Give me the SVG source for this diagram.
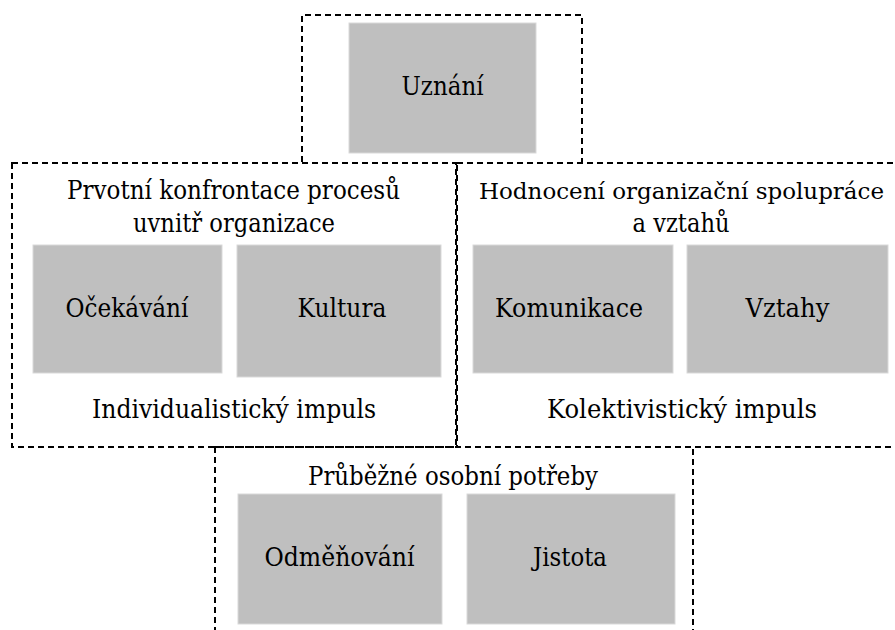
<svg xmlns="http://www.w3.org/2000/svg" width="895" height="630" viewBox="0 0 895 630">
  <style>
    .frame { fill: none; stroke: #000; stroke-width: 2; stroke-dasharray: 6 4; }
    .box { fill: #bfbfbf; stroke: #d9d9d9; stroke-width: 1; }
    .lbl { font-family: "DejaVu Serif", "Liberation Serif", serif; font-size: 26px; fill: #000; text-anchor: middle; }
    .lbl.tight { font-size: 23px; }
  </style>
  <rect width="895" height="630" fill="#fff"/>

  <!-- dashed group frames -->
  <g id="frames">
    <path class="frame" d="M302 162 V15 H582 V162"/>
    <rect class="frame" x="12" y="163" width="444" height="284"/>
    <rect class="frame" x="457" y="163" width="450" height="284"/>
    <rect class="frame" x="215" y="447" width="478" height="200"/>
  </g>

  <g id="uznani">
    <rect class="box" x="349" y="23" width="187" height="130"/>
    <text class="lbl" x="442.5" y="95" textLength="82" lengthAdjust="spacingAndGlyphs">Uznání</text>
  </g>

  <g id="individual">
    <text class="lbl" x="233.5" y="199" textLength="333" lengthAdjust="spacingAndGlyphs">Prvotní konfrontace procesů</text>
    <text class="lbl" x="234" y="232" textLength="202" lengthAdjust="spacingAndGlyphs">uvnitř organizace</text>
    <text class="lbl" x="234" y="418" textLength="284" lengthAdjust="spacingAndGlyphs">Individualistický impuls</text>
  </g>
  <g id="ocekavani">
    <rect class="box" x="33" y="245" width="189" height="128"/>
    <text class="lbl" x="127" y="317" textLength="123" lengthAdjust="spacingAndGlyphs">Očekávání</text>
  </g>
  <g id="kultura">
    <rect class="box" x="237" y="245" width="204" height="132"/>
    <text class="lbl" x="342" y="317" textLength="89" lengthAdjust="spacingAndGlyphs">Kultura</text>
  </g>

  <g id="kolektiv">
    <text class="lbl tight" x="681.5" y="199" textLength="405" lengthAdjust="spacingAndGlyphs">Hodnocení organizační spolupráce</text>
    <text class="lbl" x="681" y="232" textLength="97" lengthAdjust="spacingAndGlyphs">a vztahů</text>
    <text class="lbl" x="682" y="418" textLength="270" lengthAdjust="spacingAndGlyphs">Kolektivistický impuls</text>
  </g>
  <g id="komunikace">
    <rect class="box" x="473" y="245" width="200" height="128"/>
    <text class="lbl" x="569" y="317" textLength="148" lengthAdjust="spacingAndGlyphs">Komunikace</text>
  </g>
  <g id="vztahy">
    <rect class="box" x="687" y="245" width="201" height="128"/>
    <text class="lbl" x="787.5" y="317" textLength="84" lengthAdjust="spacingAndGlyphs">Vztahy</text>
  </g>

  <g id="potreby">
    <text class="lbl" x="453" y="485" textLength="290" lengthAdjust="spacingAndGlyphs">Průběžné osobní potřeby</text>
  </g>
  <g id="odmenovani">
    <rect class="box" x="238" y="494" width="204" height="130"/>
    <text class="lbl" x="339.5" y="566" textLength="150" lengthAdjust="spacingAndGlyphs">Odměňování</text>
  </g>
  <g id="jistota">
    <rect class="box" x="467" y="494" width="208" height="130"/>
    <text class="lbl" x="570" y="566" textLength="74" lengthAdjust="spacingAndGlyphs">Jistota</text>
  </g>

  <!-- connectors: none besides the shared frame edges -->
  <g id="connectors"/>
</svg>
